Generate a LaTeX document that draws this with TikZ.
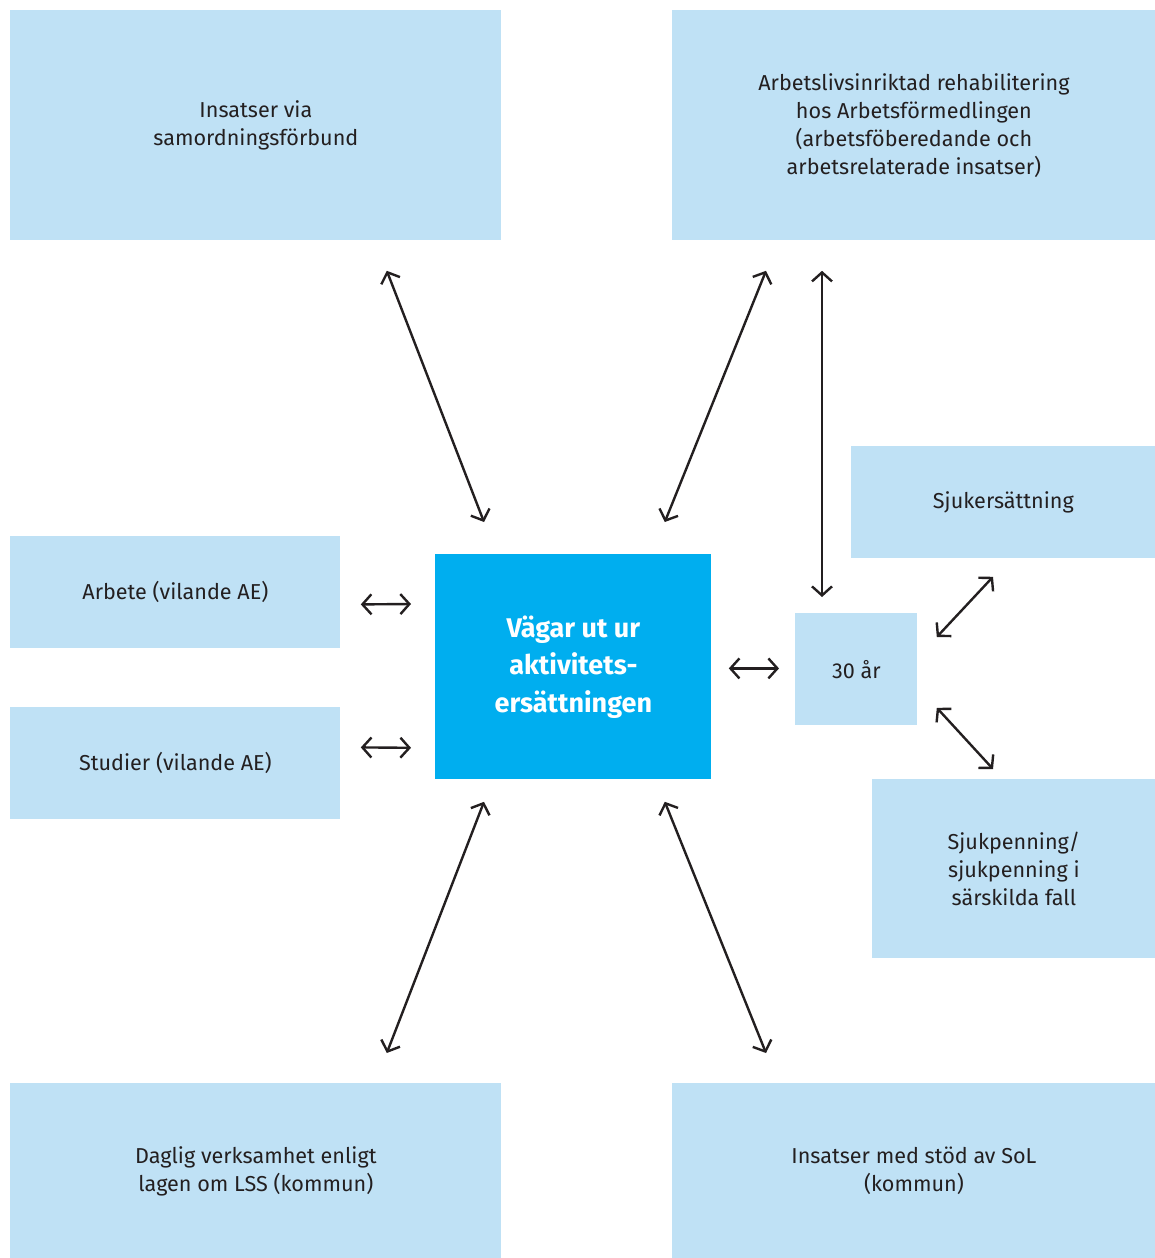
\documentclass[tikz,border=0pt]{standalone}
\usepackage{fontspec}
\setmainfont{Fira Sans}
\usepackage{tikz}
\usetikzlibrary{positioning,calc,arrows.meta}
\definecolor{paleblue}{HTML}{BFE1F5}
\definecolor{strongblue}{HTML}{00AEEF}
\definecolor{inkgrey}{HTML}{231F20}

\begin{document}
\begin{tikzpicture}
[x=0.5pt, y=-0.5pt,
lightbox/.style={rectangle, fill=paleblue, anchor=north west, inner sep=0pt, align=center, text=inkgrey, font=\fontsize{10.8}{14}\selectfont},
mainbox/.style={rectangle, fill=strongblue, anchor=north west, inner sep=0pt, align=center, text=white, font=\fontsize{13.5}{18.75}\selectfont\bfseries},
twoway/.style={{Straight Barb[length=4.5pt,width=10pt]}-{Straight Barb[length=4.5pt,width=10pt]}, line width=1.2pt, draw=inkgrey},
]
\useasboundingbox (0,0) rectangle (1155,1258);

\node[lightbox, minimum width=245.5pt, minimum height=115pt]	(samord) at (10,10) {Insatser via\\samordningsförbund};
\node[lightbox, minimum width=241.5pt, minimum height=115pt]	(arbf) at (672,10) {Arbetslivsinriktad rehabilitering\\hos Arbetsförmedlingen\\(arbetsföberedande och\\arbetsrelaterade insatser)};
\node[lightbox, minimum width=152pt, minimum height=56pt]	(sjukers) at (851,446) {Sjukersättning};
\node[lightbox, minimum width=165pt, minimum height=56pt]	(arbete) at (10,536) {Arbete (vilande AE)};
\node[lightbox, minimum width=165pt, minimum height=56pt]	(studier) at (10,707) {Studier (vilande AE)};
\node[mainbox, minimum width=138pt, minimum height=112.5pt]	(vagar) at (435,554) {Vägar ut ur\\aktivitets-\\ersättningen};
\node[lightbox, minimum width=61pt, minimum height=56pt]	(age) at (795,613) {30 år};
\node[lightbox, minimum width=141.5pt, minimum height=89.5pt]	(sjukp) at (872,779) {Sjukpenning/\\sjukpenning i\\särskilda fall};
\node[lightbox, minimum width=245.5pt, minimum height=87.5pt]	(daglig) at (10,1083) {Daglig verksamhet enligt\\lagen om LSS (kommun)};
\node[lightbox, minimum width=241.5pt, minimum height=87.5pt]	(sol) at (672,1083) {Insatser med stöd av SoL\\(kommun)};

\draw[twoway] ($(samord.south east)+(-115,30)$) -- ($(vagar.north west)+(49,-32)$);
\draw[twoway] ($(arbf.south west)+(94,30)$) -- ($(vagar.north east)+(-47,-32)$);
\draw[twoway] ($(arbf.south west)+(150,30)$) -- ($(age.north west)+(27,-16)$);
\draw[twoway] ($(arbete.east)+(20,12)$) -- ($(vagar.north west)+(-24,50)$);
\draw[twoway] ($(studier.east)+(20,-16)$) -- ($(vagar.south west)+(-24,-32)$);
\draw[twoway] ($(vagar.east |- age.west)+(17,-1)$) -- ($(age.west)+(-16,-1)$);
\draw[twoway] ($(sjukers.south west)+(142,18)$) -- ($(age.north east)+(19,24)$);
\draw[twoway] ($(age.south east)+(19,-18)$) -- ($(sjukp.north west)+(121,-10)$);
\draw[twoway] ($(vagar.south west)+(49,22)$) -- ($(daglig.north east)+(-115,-30)$);
\draw[twoway] ($(vagar.south east)+(-47,22)$) -- ($(sol.north west)+(94,-30)$);
\end{tikzpicture}
\end{document}
